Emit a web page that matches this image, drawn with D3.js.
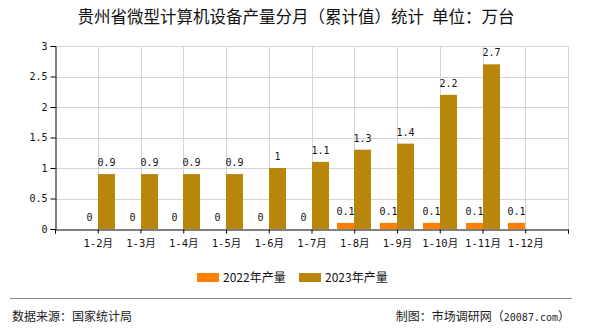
<!DOCTYPE html>
<html><head><meta charset="utf-8">
<script src="https://cdnjs.cloudflare.com/ajax/libs/d3/7.8.5/d3.min.js"></script>
<style>
html,body{margin:0;padding:0;background:#fff;}
svg text{font-family:"DejaVu Sans Mono","Noto Sans CJK SC",monospace;}
.cjk{font-family:"Noto Sans CJK SC","Noto Sans",sans-serif;}
</style></head>
<body><svg id="c" width="590" height="330"></svg>
<script>
// Monthly cumulative output, 10k units
const categories = ["1-2月","1-3月","1-4月","1-5月","1-6月","1-7月","1-8月","1-9月","1-10月","1-11月","1-12月"];
const values2022 = [0,0,0,0,0,0,0.1,0.1,0.1,0.1,0.1];
const values2023 = [0.9,0.9,0.9,0.9,1,1.1,1.3,1.4,2.2,2.7,null];
const yTicks = [0,0.5,1,1.5,2,2.5,3];
const seriesNames = ["2022年产量","2023年产量"];
const colors = ["#FF8000","#B8860B"];

const svg = d3.select("#c");
const plot = {left: 55, right: 568, top: 46, bottom: 229};

const x = d3.scaleLinear().domain([0, categories.length + 1]).range([plot.left, plot.right]);
const y = d3.scaleLinear().domain([0, 3]).range([plot.bottom, plot.top]);
const barW = 17;

// title
const title = svg.append("text").attr("class","cjk").attr("x",296).attr("y",23).attr("text-anchor","middle")
  .attr("font-size",16.5).attr("fill","#111");
title.append("tspan").text("贵州省微型计算机设备产量分月（累计值）统计");
title.append("tspan").attr("dx",8).text("单位：万台");

// grid
const g = svg.append("g");
g.selectAll(".hg").data(yTicks.slice(1)).enter().append("line")
  .attr("x1",plot.left).attr("x2",plot.right).attr("y1",d=>Math.round(y(d))+0.5).attr("y2",d=>Math.round(y(d))+0.5)
  .attr("stroke","#d4d4d4");
g.selectAll(".vg").data(d3.range(1, categories.length + 2)).enter().append("line")
  .attr("x1",d=>Math.round(x(d))+0.5).attr("x2",d=>Math.round(x(d))+0.5).attr("y1",plot.top).attr("y2",plot.bottom)
  .attr("stroke","#d4d4d4");

// bars with value labels
categories.forEach((c,i)=>{
  const cx = Math.round(x(i+1));
  const v1 = values2022[i], v2 = values2023[i];
  if (v1 != null) {
    svg.append("rect").attr("x",cx-barW).attr("width",barW).attr("y",y(v1)).attr("height",plot.bottom-y(v1)).attr("fill",colors[0]);
    svg.append("text").attr("x",cx-barW/2).attr("y",y(v1)-8).attr("text-anchor","middle")
      .attr("font-size",10).attr("fill","#111").text(v1);
  }
  if (v2 != null) {
    svg.append("rect").attr("x",cx).attr("width",barW).attr("y",y(v2)).attr("height",plot.bottom-y(v2)).attr("fill",colors[1]);
    svg.append("text").attr("x",cx+barW/2).attr("y",y(v2)-8).attr("text-anchor","middle")
      .attr("font-size",10).attr("fill","#111").text(v2);
  }
});

// y axis
const ya = svg.append("g").attr("transform",`translate(${plot.left+0.5},0)`)
  .call(d3.axisLeft(y).tickValues(yTicks).tickSize(5).tickFormat(d=>d));
ya.select(".domain").attr("stroke","#000");
ya.selectAll("text").attr("font-size",10).attr("fill","#111");

// x axis
const xa = svg.append("g").attr("transform",`translate(0,${plot.bottom+0.5})`)
  .call(d3.axisBottom(x).tickValues(d3.range(0, categories.length + 2)).tickSize(4)
    .tickFormat(d=> (d>=1 && d<=categories.length) ? categories[d-1] : ""));
xa.select(".domain").attr("stroke","#000");
xa.selectAll("text").attr("font-size",10.5).attr("fill","#111").attr("y",17).attr("dy",0);

// legend
const lg = svg.append("g");
[[197,223],[299,325]].forEach((p,i)=>{
  lg.append("rect").attr("x",p[0]).attr("y",273).attr("width",22).attr("height",9).attr("fill",colors[i]);
  lg.append("text").attr("class","cjk").attr("x",p[1]).attr("y",282).attr("font-size",12).attr("fill","#111").text(seriesNames[i]);
});

// footer
svg.append("line").attr("x1",10).attr("x2",572).attr("y1",298.5).attr("y2",298.5).attr("stroke","#888");
svg.append("text").attr("class","cjk").attr("x",12).attr("y",321).attr("font-size",12).attr("fill","#222").text("数据来源：国家统计局");
const credit = svg.append("text").attr("x",570).attr("y",321).attr("text-anchor","end").attr("fill","#222");
credit.append("tspan").attr("class","cjk").attr("font-size",12).text("制图：市场调研网（");
credit.append("tspan").attr("font-size",10).text("20087.com");
credit.append("tspan").attr("class","cjk").attr("font-size",12).text("）");
</script></body></html>
